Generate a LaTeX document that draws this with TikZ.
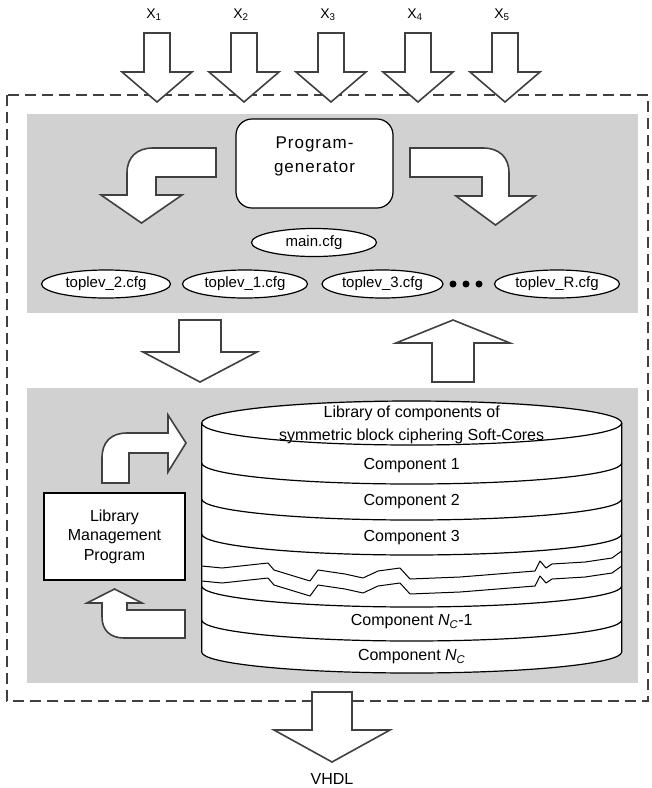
\documentclass[tikz,border=0pt]{standalone}
\usepackage{fontspec}
\setmainfont{Liberation Sans}
\usetikzlibrary{shapes.geometric,calc}

\tikzset{
  panel/.style={fill=black!18,draw=none},
  blockarrow/.style={draw=black!75,fill=white,line width=1.6pt,line join=miter},
  box/.style={draw=black,fill=white,line width=1.2pt},
  cfgfile/.style={ellipse,draw=black,fill=white,line width=1.2pt,minimum width=125pt,minimum height=28pt,inner sep=0pt,font=\fontsize{15}{18}\selectfont},
  cyltext/.style={font=\fontsize{16}{23}\selectfont,align=center},
  cylline/.style={draw=black,line width=1.2pt},
  tear/.style={draw=black,line width=1pt,line join=round},
}

\begin{document}
\begin{tikzpicture}[x=1pt,y=-1pt]
 \useasboundingbox (0,0) rectangle (652,788);
 \draw[black!75,line width=1.2pt,dash pattern=on 11pt off 6pt] (7,95) rectangle (648,701);
 \fill[panel] (27,114) rectangle (638,313);
 \fill[panel] (27,388) rectangle (638,683);

 % inputs
 \foreach \i in {1,...,5}{
   \pgfmathsetmacro{\xc}{157+87*(\i-1)}
   \node (x\i) at (\xc-3,15) {\fontsize{14}{16}\selectfont X\textsubscript{\i}};
   \draw[blockarrow] (\xc-13,33) -- (\xc+13,33) -- (\xc+13,72) -- (\xc+35,72) -- (\xc,102) -- (\xc-35,72) -- (\xc-13,72) -- cycle;
 }

 % program generator and its files
 \node[box,rounded corners=16pt,minimum width=157pt,minimum height=89pt] (prog) at (314.5,163.5) {};
 \node[font=\fontsize{17}{24}\selectfont\addfontfeature{LetterSpace=6},align=center] (progtxt) at ([yshift=7pt]prog.center) {Program-\\generator};
 \draw[blockarrow] (216,148) -- (216,177) -- (156,177) -- (156,195) -- (182,195) -- (141.5,223) -- (101,195) -- (127,195) -- (127,173) .. controls (127,157) and (137,148) .. (153,148) -- cycle;
 \draw[blockarrow] (410,148) -- (410,177) -- (482,177) -- (482,196) -- (456,196) -- (495.5,225) -- (535,196) -- (509,196) -- (509,173) .. controls (509,157) and (499,148) .. (483,148) -- cycle;
 \node[cfgfile] (mainf) at (314,242.5) {main.cfg};
 \node[cfgfile,minimum width=129pt] (top2) at (106,284) {toplev\_2.cfg};
 \node[cfgfile] (top1) at (245,284) {toplev\_1.cfg};
 \node[cfgfile,minimum width=121pt] (top3) at (382.5,284) {toplev\_3.cfg};
 \node[cfgfile] (topR) at (557,284) {toplev\_R.cfg};
 \foreach \d in {453,466,479}
   \fill (\d,284) circle[radius=3.5];

 \draw[blockarrow] (179,320) -- (221,320) -- (221,352) -- (257,352) -- (200,382) -- (143,352) -- (179,352) -- cycle;
 \draw[blockarrow] (432,382) -- (474,382) -- (474,343) -- (510,343) -- (453,320) -- (396,343) -- (432,343) -- cycle;

 % library
 \path[fill=white] (201.7,423) -- (201.7,652) arc[start angle=180,end angle=0,x radius=210,y radius=21] -- (621.7,423) arc[start angle=0,end angle=-180,x radius=210,y radius=21] -- cycle;
 \draw[cylline] (201.7,423) -- (201.7,652) arc[start angle=180,end angle=0,x radius=210,y radius=21] -- (621.7,423);
 \draw[cylline] (411.7,423) ellipse[x radius=210,y radius=22];
 \foreach \s in {463,499,534,586,620}
   \draw[cylline] (201.7,\s) arc[start angle=180,end angle=0,x radius=210,y radius=21];
 \foreach \dy in {0,15}
   \draw[tear,shift={(0,\dy)}] (201.7,566) -- (222,568) -- (268,563) -- (274,570) -- (310,581) -- (318,570) -- (345,574) -- (363,578) -- (378,571) -- (400,568) -- (410,579) -- (460,577) -- (535,571) -- (540,561) -- (546,568) -- (552,564) -- (585,562) -- (612,558) -- (621.7,551);

 \node[cyltext] (libtitle) at (411.7,425) {Library of components of\\symmetric block ciphering Soft-Cores};
 \node[cyltext] (comp1) at (411.7,466) {Component 1};
 \node[cyltext] (comp2) at (411.7,502) {Component 2};
 \node[cyltext] (comp3) at (411.7,538) {Component 3};
 \node[cyltext] (compNm) at (411.7,622) {Component \textit{N}\textsubscript{\textit{C}}-1};
 \node[cyltext] (compN) at (411.7,657) {Component \textit{N}\textsubscript{\textit{C}}};

 % library management
 \node[box,minimum width=141pt,minimum height=87pt,align=center,font=\fontsize{16}{19.5}\selectfont] (lmp) at (114.5,536.5) {Library\\Management\\Program};
 \draw[blockarrow] (129,483) -- (102,483) -- (102,458) .. controls (102,442) and (111,433) .. (127,433) -- (168,433) -- (168,415) -- (186,443) -- (168,472) -- (168,453) -- (129,453) -- cycle;
 \draw[blockarrow] (185,610) -- (185,638) -- (124,638) .. controls (110,638) and (102,630) .. (102,617) -- (102,603) -- (87,603) -- (114.5,589) -- (142,603) -- (127,603) -- (127,610) -- cycle;

 % output
 \draw[blockarrow] (312,692) -- (352,692) -- (352,730) -- (390,730) -- (332,762) -- (274,730) -- (312,730) -- cycle;
 \node[font=\fontsize{16}{19}\selectfont] (vhdl) at (332,779) {VHDL};
\end{tikzpicture}
\end{document}
